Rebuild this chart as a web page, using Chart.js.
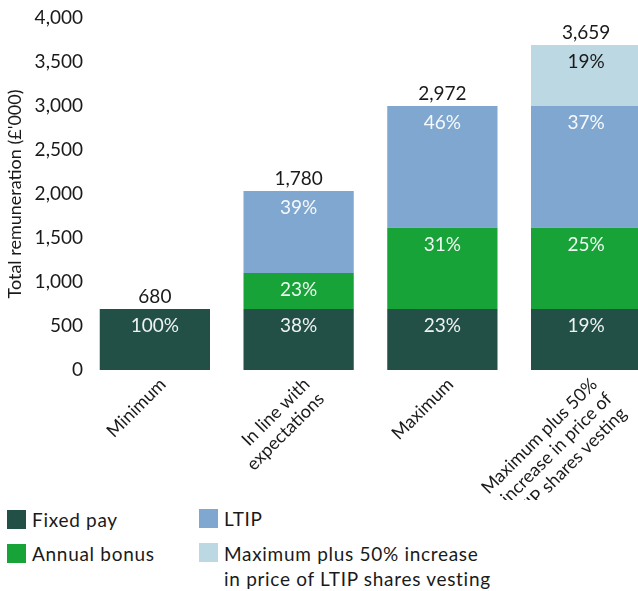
<!DOCTYPE html>
<html>
<head>
<meta charset="utf-8">
<script src="https://cdn.jsdelivr.net/npm/chart.js@4.4.1/dist/chart.umd.min.js"></script>
<style>
  html, body { margin: 0; padding: 0; background: #fff; overflow: hidden; width: 638px; height: 591px; }
  #wrap { position: relative; width: 658px; height: 591px; }
  canvas { position: absolute; left: 0; top: 0; }
  .leg { position: absolute; font-family: Lato, sans-serif; font-size: 19px; color: #1a1a1a; line-height: 25px; letter-spacing: 0.7px; white-space: nowrap; }
  .sw { position: absolute; width: 19px; height: 19px; }
</style>
</head>
<body>
<div id="wrap">
  <canvas id="c" width="658" height="500"></canvas>
  <div id="legend"></div>
</div>
<script>
// ---- Data ----
const categories = [
  ['Minimum'],
  ['In line with', 'expectations'],
  ['Maximum'],
  ['Maximum plus 50%', 'increase in price of', 'LTIP shares vesting']
];
const seriesNames = ['Fixed pay', 'Annual bonus', 'LTIP', 'Maximum plus 50% increase in price of LTIP shares vesting'];
const fixedPay    = [693, 693, 693, 693];
const annualBonus = [0, 409, 924, 924];
const ltip        = [0, 932, 1383, 1383];
const shareGrowth = [0, 0, 0, 693];
const fixedPct    = ['100%', '38%', '23%', '19%'];
const bonusPct    = [null, '23%', '31%', '25%'];
const ltipPct     = [null, '39%', '46%', '37%'];
const growthPct   = [null, null, null, '19%'];
const totalLabels = ['680', '1,780', '2,972', '3,659'];
const yTicks      = [0, 500, 1000, 1500, 2000, 2500, 3000, 3500, 4000];

const colors = ['#225046', '#17a338', '#80a7cf', '#bcd9e3'];
const pctColors = ['rgba(255,255,255,0.93)', 'rgba(255,255,255,0.93)', 'rgba(255,255,255,0.93)', '#1a1a1a'];
const pctLabels = [fixedPct, bonusPct, ltipPct, growthPct];
const seriesData = [fixedPay, annualBonus, ltip, shareGrowth];

const FONT = 'Lato, sans-serif';

const labelPlugin = {
  id: 'barLabels',
  afterDatasetsDraw(chart) {
    const ctx = chart.ctx;
    ctx.save();
    ctx.font = '19px ' + FONT;
    ctx.textAlign = 'center';
    ctx.textBaseline = 'middle';
    const tops = [];
    chart.data.datasets.forEach((ds, i) => {
      const meta = chart.getDatasetMeta(i);
      meta.data.forEach((el, j) => {
        if (ds.data[j] > 0) {
          if (tops[j] === undefined || el.y < tops[j].y) tops[j] = { x: el.x, y: el.y };
          const t = pctLabels[i][j];
          if (t) {
            ctx.fillStyle = pctColors[i];
            ctx.fillText(t, el.x, el.y + 17);
          }
        }
      });
    });
    ctx.fillStyle = '#1a1a1a';
    tops.forEach((p, j) => {
      if (p) ctx.fillText(totalLabels[j], p.x, p.y - 12);
    });
    ctx.restore();
  }
};

const chart = new Chart(document.getElementById('c'), {
  type: 'bar',
  data: {
    labels: categories,
    datasets: seriesData.map((d, i) => ({
      label: seriesNames[i],
      data: d,
      backgroundColor: colors[i],
      borderWidth: 0,
      barPercentage: 0.767,
      categoryPercentage: 1
    }))
  },
  options: {
    responsive: false,
    animation: false,
    devicePixelRatio: 1,
    layout: { padding: { top: 18, left: 0, right: 0, bottom: 0 } },
    plugins: { legend: { display: false }, tooltip: { enabled: false } },
    scales: {
      x: {
        stacked: true,
        grid: { display: false, drawTicks: false },
        border: { display: false },
        ticks: {
          font: { family: FONT, size: 18, lineHeight: 1.15 },
          color: '#1a1a1a',
          minRotation: 45,
          maxRotation: 45,
          autoSkip: false,
          padding: 4,
          labelOffset: 8
        },
        afterFit(axis) { axis.height = 130; }
      },
      y: {
        stacked: true,
        min: 0,
        max: 4000,
        afterBuildTicks(axis) { axis.ticks = yTicks.map(v => ({ value: v })); },
        grid: { display: false, drawTicks: false },
        border: { display: false },
        ticks: {
          font: { family: FONT, size: 19 },
          color: '#1a1a1a',
          padding: 0,
          callback: v => v.toLocaleString('en-GB')
        },
        title: {
          display: true,
          text: 'Total remuneration (£\'000)',
          font: { family: FONT, size: 18 },
          color: '#1a1a1a',
          padding: { top: 4, bottom: 4 }
        },
        afterFit(axis) { axis.width = 83; }
      }
    }
  },
  plugins: [labelPlugin]
});

// HTML legend built from the chart's datasets
const legendPos = [
  { sx: 7, sy: 510, tx: 32, ty: 507 },
  { sx: 7, sy: 544, tx: 32, ty: 541 },
  { sx: 199, sy: 509, tx: 224, ty: 506 },
  { sx: 199, sy: 543, tx: 224, ty: 541 }
];
const legendText = ['Fixed pay', 'Annual bonus', 'LTIP', 'Maximum plus 50% increase<br>in price of LTIP shares vesting'];
const legendEl = document.getElementById('legend');
chart.data.datasets.forEach((ds, i) => {
  const p = legendPos[i];
  const sw = document.createElement('div');
  sw.className = 'sw';
  sw.style.left = p.sx + 'px'; sw.style.top = p.sy + 'px';
  sw.style.background = ds.backgroundColor;
  legendEl.appendChild(sw);
  const t = document.createElement('div');
  t.className = 'leg';
  t.style.left = p.tx + 'px'; t.style.top = p.ty + 'px';
  t.innerHTML = legendText[i];
  legendEl.appendChild(t);
});
</script>
</body>
</html>
